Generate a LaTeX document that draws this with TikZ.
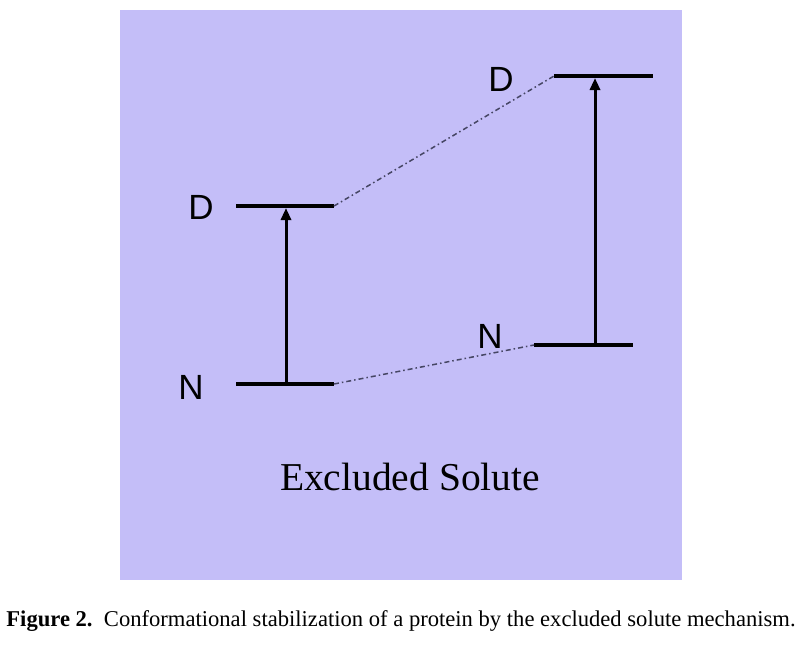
\documentclass[tikz,border=0pt]{standalone}
\usepackage{fontspec}
\setmainfont{Liberation Serif}
\setsansfont{Liberation Sans}
\usetikzlibrary{arrows.meta}
\definecolor{bgpurple}{RGB}{196,190,248}
\definecolor{tiegray}{RGB}{70,70,100}

\begin{document}
\begin{tikzpicture}[x=1pt, y=-1pt,
    level/.style={line width=4pt},
    excite/.style={line width=3pt, -{Triangle[length=12pt, width=10pt]}},
    tie/.style={tiegray, line width=1.5pt, dash pattern=on 5pt off 3pt on 1.5pt off 3pt},
    statelab/.style={font=\sffamily\fontsize{35}{35}\selectfont, inner sep=0pt}]
    \useasboundingbox (0,0) rectangle (806,649);
    \fill[bgpurple] (120,10) rectangle (682,580);

    % energy levels, left: water
    \coordinate (dl1) at (236,206);
    \coordinate (dr1) at (334,206);
    \coordinate (nl1) at (236,384);
    \coordinate (nr1) at (334,384);
    % energy levels, right: excluded solute
    \coordinate (dl2) at (554,76);
    \coordinate (dr2) at (653,76);
    \coordinate (nl2) at (534,345);
    \coordinate (nr2) at (633,345);

    \draw[level] (dl1) -- (dr1);
    \draw[level] (nl1) -- (nr1);
    \draw[level] (dl2) -- (dr2);
    \draw[level] (nl2) -- (nr2);

    \node[statelab] (d1) at (201,207) {D};
    \node[statelab] (n1) at (191,387) {N};
    \node[statelab] (d2) at (501,79) {D};
    \node[statelab] (n2) at (490,336) {N};

    % transitions
    \coordinate (a1) at (286,384);
    \coordinate (b1) at (286,208);
    \coordinate (a2) at (595,345);
    \coordinate (b2) at (595,78);
    \draw[excite] (a1) -- (b1);
    \draw[excite] (a2) -- (b2);

    \draw[tie] (dr1) -- (dl2);
    \draw[tie] (nr1) -- (nl2);

    \node[font=\fontsize{39.5}{40}\selectfont] (solute) at (410,477) {Excluded Solute};

    \node[font=\fontsize{22.6}{24}\selectfont] (caption) at (401,621)
        {\textbf{Figure 2.}\ \ Conformational stabilization of a protein by the excluded solute mechanism.};
\end{tikzpicture}
\end{document}
